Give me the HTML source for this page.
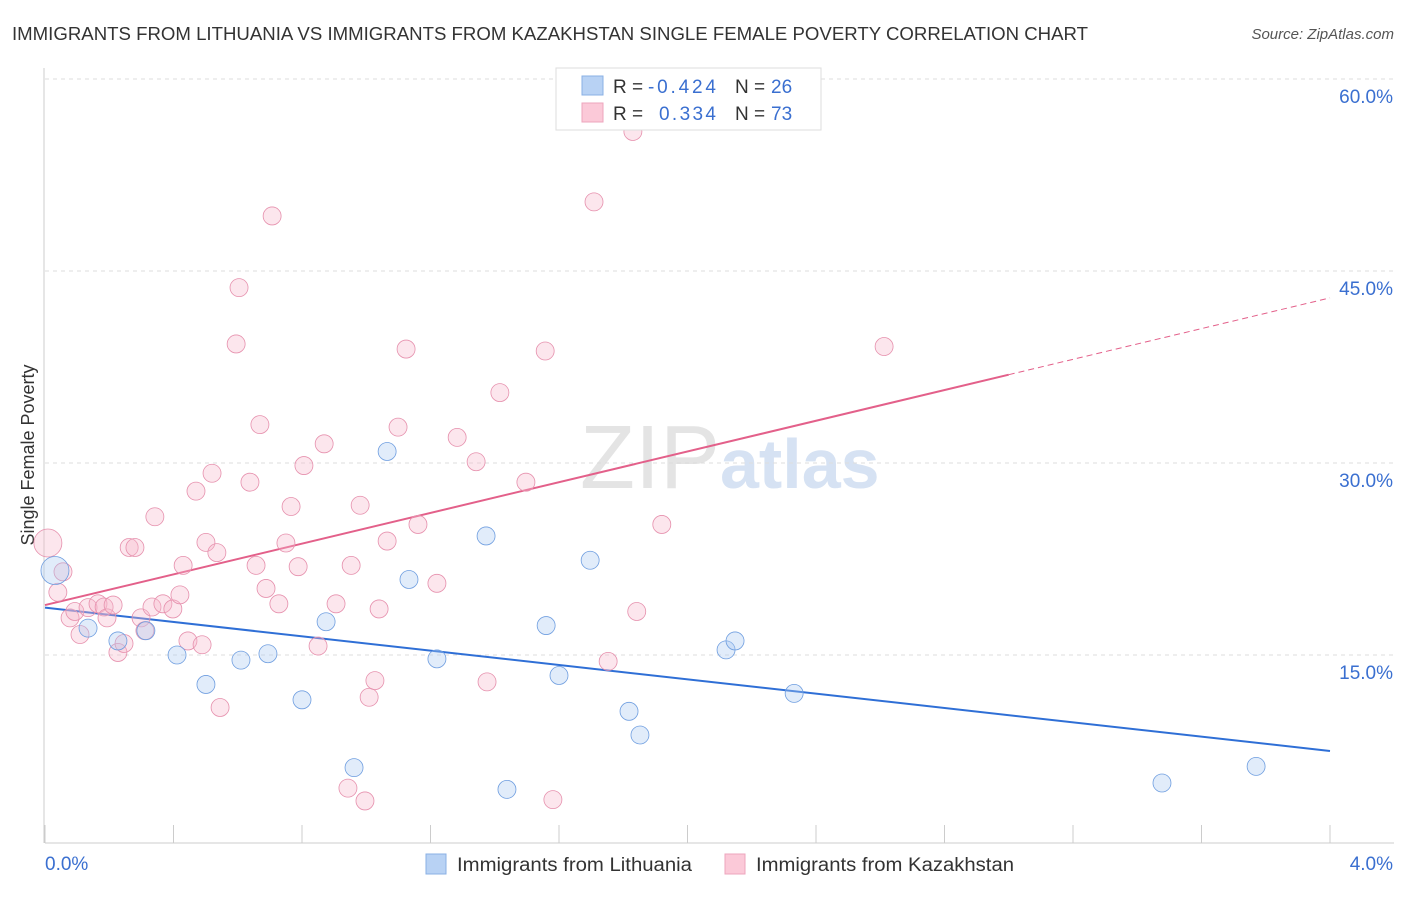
<!DOCTYPE html>
<html><head><meta charset="utf-8"><style>
body{margin:0;background:#fff;font-family:"Liberation Sans",sans-serif;}
svg text{font-family:"Liberation Sans",sans-serif;}
</style></head><body>
<svg id="chart" width="1406" height="892" xmlns="http://www.w3.org/2000/svg">
<text x="12" y="40" font-size="18" fill="#333" textLength="1076" lengthAdjust="spacingAndGlyphs">IMMIGRANTS FROM LITHUANIA VS IMMIGRANTS FROM KAZAKHSTAN SINGLE FEMALE POVERTY CORRELATION CHART</text>
<text x="1394" y="39" font-size="15" fill="#555" text-anchor="end" font-style="italic">Source: ZipAtlas.com</text>
<text x="720" y="488" font-size="90" fill="#e4e4e4" text-anchor="end" font-family="Liberation Serif">ZIP</text>
<text x="720" y="488" font-size="70" fill="#d6e2f3" font-weight="bold">atlas</text>
<text transform="translate(34,455) rotate(-90)" font-size="18" fill="#333" text-anchor="middle">Single Female Poverty</text>
<g id="grid"></g><g id="axes"></g><g id="lines"></g><g id="pts"></g>
<g>
<rect x="556" y="68" width="265" height="62" fill="#fff" stroke="#ddd"/>
<rect x="582" y="76" width="21" height="19" fill="#b8d2f4" stroke="#8ab0e4"/>
<rect x="582" y="103" width="21" height="19" fill="#fbc9d8" stroke="#eea5bd"/>
<text x="613" y="93" font-size="19" fill="#333">R =</text><text x="648" y="93" font-size="19" fill="#3a6fd0" textLength="68">-0.424</text>
<text x="735" y="93" font-size="19" fill="#333">N =</text><text x="771" y="93" font-size="19" fill="#3a6fd0">26</text>
<text x="613" y="120" font-size="19" fill="#333">R =</text><text x="659" y="120" font-size="19" fill="#3a6fd0" textLength="57">0.334</text>
<text x="735" y="120" font-size="19" fill="#333">N =</text><text x="771" y="120" font-size="19" fill="#3a6fd0">73</text>
</g>
<g>
<rect x="426" y="854" width="20" height="20" fill="#b8d2f4" stroke="#8ab0e4"/>
<text x="457" y="871" font-size="19" fill="#333" textLength="235" lengthAdjust="spacingAndGlyphs">Immigrants from Lithuania</text>
<rect x="725" y="854" width="20" height="20" fill="#fbc9d8" stroke="#eea5bd"/>
<text x="756" y="871" font-size="19" fill="#333" textLength="258" lengthAdjust="spacingAndGlyphs">Immigrants from Kazakhstan</text>
</g>
</svg>
<script>
const yTicks=[15,30,45,60];
const xTickLabels=["0.0%","4.0%"];
const blueX=[0.031,0.134,0.227,0.314,0.411,0.501,0.610,0.694,0.800,0.875,0.962,1.065,1.133,1.220,1.373,1.438,1.560,1.600,1.697,1.818,1.852,2.120,2.148,2.332,3.477,3.770];
const blueY=[21.6,17.1,16.1,16.9,15.0,12.7,14.6,15.1,11.5,17.6,6.2,30.9,20.9,14.7,24.3,4.5,17.3,13.4,22.4,10.6,8.75,15.4,16.1,12.0,5.0,6.3];
const pinkX=[0.009,0.040,0.056,0.078,0.093,0.109,0.134,0.165,0.184,0.193,0.212,0.227,0.246,0.262,0.280,0.299,0.311,0.333,0.342,0.367,0.398,0.420,0.430,0.445,0.470,0.489,0.501,0.520,0.535,0.545,0.595,0.604,0.638,0.657,0.669,0.688,0.707,0.728,0.750,0.766,0.788,0.806,0.850,0.869,0.906,0.953,0.981,0.943,0.996,1.009,1.027,1.040,1.065,1.099,1.124,1.161,1.220,1.283,1.342,1.376,1.416,1.497,1.557,1.581,1.709,1.753,1.830,1.842,1.920,2.612];
const pinkY=[23.75,19.9,21.5,17.9,18.4,16.6,18.7,19.0,18.75,17.9,18.9,15.2,15.9,23.4,23.4,17.9,16.9,18.75,25.8,19.0,18.6,19.7,22.0,16.1,27.8,15.8,23.8,29.2,23.0,10.9,39.3,43.7,28.5,22.0,33.0,20.2,49.3,19.0,23.75,26.6,21.9,29.8,15.7,31.5,19.0,22.0,26.7,4.6,3.6,11.7,13.0,18.6,23.9,32.8,38.9,25.2,20.6,32.0,30.1,12.9,35.5,28.5,38.75,3.7,50.4,14.5,55.9,18.4,25.2,39.1];
const blueTrend=[18.7,7.5];
const pinkTrend=[18.9,42.9];
const pinkSolidEnd=3.0;
const NS="http://www.w3.org/2000/svg";
const xs=v=>45+v/4*1285, ys=v=>847-v/15*192;
function mk(tag,attrs,parent){const e=document.createElementNS(NS,tag);for(const k in attrs)e.setAttribute(k,attrs[k]);parent.appendChild(e);return e;}
const grid=document.getElementById('grid'),axes=document.getElementById('axes'),lines=document.getElementById('lines'),pts=document.getElementById('pts');
yTicks.forEach(t=>{
 const l=mk('line',{x1:45,x2:1394,y1:ys(t),y2:ys(t),stroke:'#ddd','stroke-dasharray':'4,4'},grid);
 
 
 const tx=mk('text',{x:1393,y:ys(t)+24,'font-size':19,fill:'#3a6fd0','text-anchor':'end'},grid);
 tx.textContent=t.toFixed(1)+'%';
 
 
});
let ax=mk('line',{x1:44,x2:44,y1:68,y2:843,stroke:'#ccc'},axes);


let bx=mk('line',{x1:45,x2:1394,y1:843,y2:843,stroke:'#ccc'},axes);


for(let i=0;i<=10;i++){const v=i*0.4;
 const t=mk('line',{x1:xs(v),x2:xs(v),y1:825,y2:843,stroke:'#ccc'},axes);
 
 }
[[0,45,'start'],[4,1393,'end']].forEach((d,i)=>{
 const t=mk('text',{x:d[1],y:870,'font-size':19,fill:'#3a6fd0','text-anchor':d[2]},axes);
 t.textContent=xTickLabels[i];
 
 });
function drawPts(X,Y,fill,stroke,name){X.forEach((x,i)=>{
 const r=i===0?14:9;
 const c=mk('circle',{cx:xs(x),cy:ys(Y[i]),r:r,fill:fill,'fill-opacity':0.35,stroke:stroke,'stroke-width':0.8},pts);
 
 });}
drawPts(pinkX,pinkY,'#f7b6cb','#e690ad','kazakhstan-point');
drawPts(blueX,blueY,'#a9c8f0','#6f9ee0','lithuania-point');
let bl=mk('line',{x1:xs(0),y1:ys(blueTrend[0]),x2:xs(4),y2:ys(blueTrend[1]),stroke:'#2f6fd6','stroke-width':2},lines);


const pm=pinkTrend[0]+(pinkTrend[1]-pinkTrend[0])*pinkSolidEnd/4;
let pl=mk('line',{x1:xs(0),y1:ys(pinkTrend[0]),x2:xs(pinkSolidEnd),y2:ys(pm),stroke:'#e3608a','stroke-width':2},lines);


let pd=mk('line',{x1:xs(pinkSolidEnd),y1:ys(pm),x2:xs(4),y2:ys(pinkTrend[1]),stroke:'#e3608a','stroke-width':1,'stroke-dasharray':'6,4'},lines);


</script>
</body></html>
